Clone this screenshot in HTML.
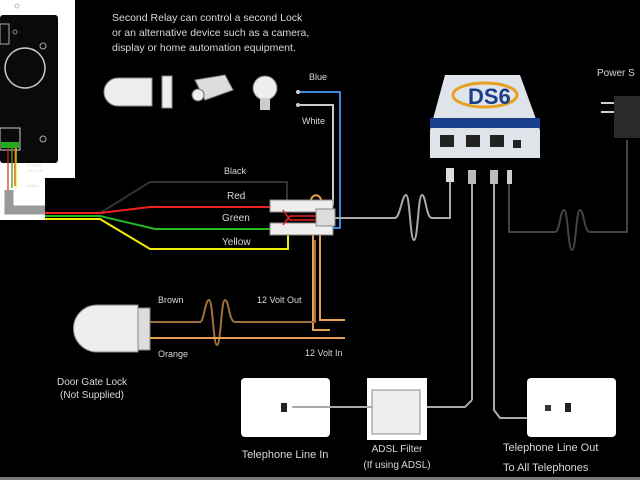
<!DOCTYPE html>
<html><head><meta charset="utf-8"><style>
html,body{margin:0;padding:0;background:#000;width:640px;height:480px;overflow:hidden}
svg{display:block}
text{font-family:"Liberation Sans",sans-serif;fill:#d8d8d8}
</style></head><body>
<svg width="640" height="480" viewBox="0 0 640 480" xmlns="http://www.w3.org/2000/svg">
<rect width="640" height="480" fill="#000"/>
<!-- intercom panel -->
<path d="M0 0H75V178H45V220H0Z" fill="#fff"/>
<rect x="0" y="15" width="58" height="148" rx="3" fill="#0a0a0a"/>
<circle cx="17" cy="6" r="2" fill="none" stroke="#bbb"/>
<circle cx="25" cy="68" r="20" fill="none" stroke="#ccc" stroke-width="1.5"/>
<rect x="0" y="24" width="9" height="20" fill="none" stroke="#aaa"/>
<circle cx="15" cy="32" r="2" fill="none" stroke="#888"/>
<circle cx="43" cy="46" r="3" fill="none" stroke="#aaa"/>
<circle cx="43" cy="139" r="3" fill="none" stroke="#aaa"/>
<rect x="0" y="128" width="20" height="22" fill="none" stroke="#ccc"/>
<rect x="1" y="142" width="18" height="6" fill="#2a2"/>
<path d="M8 148V190M12 148V188M15 148V186" stroke="#d22" stroke-width="1.2"/>
<path d="M12 148V188" stroke="#2b2" stroke-width="1.2"/>
<path d="M16 148V188" stroke="#ee0" stroke-width="1.2"/>
<text x="26" y="167" font-size="4" fill="#555">POWER</text>
<text x="26" y="172" font-size="4" fill="#555">YELLOW</text>
<text x="26" y="187" font-size="4" fill="#555">AUDIO</text>
<path d="M9 190V210H45" stroke="#999" stroke-width="9" fill="none"/>
<!-- wires -->
<path d="M45 213H100L150 182H287V205" stroke="#333" stroke-width="2" fill="none"/>
<path d="M45 213H100L150 207H270" stroke="#e22" stroke-width="2" fill="none"/>
<path d="M45 216H100L155 229H270" stroke="#2b2" stroke-width="2" fill="none"/>
<path d="M45 219H100L150 249H288V235" stroke="#ee0" stroke-width="2" fill="none"/>
<path d="M298 92H340V228H330" stroke="#3a8ae0" stroke-width="2" fill="none"/>
<path d="M298 105H333V205" stroke="#ccc" stroke-width="2" fill="none"/>
<circle cx="298" cy="92" r="2" fill="#ccc"/><circle cx="298" cy="105" r="2" fill="#ccc"/>
<path d="M310 205C310 192 322 192 322 205" stroke="#e8a050" stroke-width="2" fill="none"/>
<path d="M313 235V330H330M320 235V320H345" stroke="#e8a050" stroke-width="2" fill="none"/>
<!-- terminal blocks -->
<rect x="270" y="200" width="63" height="12" fill="#eee" stroke="#888"/>
<rect x="270" y="223" width="63" height="12" fill="#eee" stroke="#888"/>
<rect x="316" y="209" width="19" height="17" fill="#ddd" stroke="#888"/>
<path d="M283 210L290 220H316M283 225L290 216H316" stroke="#e22" stroke-width="1.5" fill="none"/>
<!-- grey wire to DS6 -->
<path d="M335 218H395C400 218 402 195 406 195C410 195 410 240 414 240C418 240 418 195 422 195C426 195 426 218 432 218H450V180" stroke="#aaa" stroke-width="2" fill="none"/>
<rect x="446" y="168" width="8" height="14" fill="#ddd"/>
<!-- DS6 box -->
<path d="M445 75H520L540 130V158H430V130Z" fill="#dfe3ea"/>
<rect x="430" y="118" width="110" height="10" fill="#1a3f8a"/>
<ellipse cx="485" cy="95" rx="32" ry="12" fill="none" stroke="#e8a020" stroke-width="3"/>
<text x="468" y="104" font-size="22" font-weight="bold" fill="#1a3f8a" style="fill:#1a3f8a">DS6</text>
<rect x="440" y="135" width="14" height="12" fill="#222"/><rect x="466" y="135" width="14" height="12" fill="#222"/><rect x="490" y="135" width="14" height="12" fill="#222"/><rect x="513" y="140" width="8" height="8" fill="#222"/>
<path d="M472 180V400M494 180V400" stroke="#aaa" stroke-width="2"/>
<rect x="468" y="170" width="8" height="14" fill="#bbb"/><rect x="490" y="170" width="8" height="14" fill="#bbb"/>
<rect x="507" y="170" width="5" height="14" fill="#ccc"/>
<path d="M509 184V232H555C560 232 560 210 564 210C568 210 568 250 572 250C576 250 576 210 580 210C584 210 584 232 590 232H627V140" stroke="#444" stroke-width="2" fill="none"/>
<!-- power supply -->
<text x="597" y="76" font-size="10">Power S</text>
<rect x="614" y="96" width="26" height="42" fill="#2a2a2a"/>
<path d="M601 103H614M601 112H614" stroke="#ccc" stroke-width="2"/>
<!-- top text and icons -->
<text x="112" y="21" font-size="10.5">Second Relay can control a second Lock</text>
<text x="112" y="36" font-size="10.5">or an alternative device such as a camera,</text>
<text x="112" y="51" font-size="10.5">display or home automation equipment.</text>
<path d="M118 78H152V106H118A14 14 0 0 1 118 78Z" fill="#eee" stroke="#888"/>
<rect x="162" y="76" width="10" height="32" fill="#eee" stroke="#888"/>
<path d="M195 80L225 75L233 90L205 100Z" fill="#ddd" stroke="#888"/>
<circle cx="198" cy="95" r="6" fill="#eee" stroke="#666"/>
<circle cx="265" cy="88" r="12" fill="#eee" stroke="#777"/>
<rect x="260" y="98" width="10" height="12" fill="#ccc"/>
<text x="309" y="80" font-size="9">Blue</text>
<text x="302" y="124" font-size="9">White</text>
<text x="224" y="174" font-size="9">Black</text>
<text x="227" y="199" font-size="10">Red</text>
<text x="222" y="221" font-size="10">Green</text>
<text x="222" y="245" font-size="10">Yellow</text>
<!-- door lock -->
<path d="M97 305H138V352H97A23 23 0 0 1 97 305Z" fill="#eee" stroke="#888"/>
<rect x="138" y="308" width="12" height="42" fill="#ddd" stroke="#888"/>
<path d="M150 322H200C204 322 205 300 209 300C213 300 213 345 217 345C221 345 221 300 225 300C229 300 229 322 235 322H315V240" stroke="#a0703a" stroke-width="2" fill="none"/>
<path d="M150 338H345" stroke="#e8a050" stroke-width="2"/>
<text x="158" y="303" font-size="9">Brown</text>
<text x="158" y="357" font-size="9">Orange</text>
<text x="257" y="303" font-size="9">12 Volt Out</text>
<text x="305" y="356" font-size="9">12 Volt In</text>
<text x="92" y="385" font-size="10" text-anchor="middle">Door Gate Lock</text>
<text x="92" y="398" font-size="10" text-anchor="middle">(Not Supplied)</text>
<!-- bottom boxes -->
<rect x="241" y="378" width="89" height="59" rx="4" fill="#fff"/>
<rect x="281" y="403" width="6" height="9" fill="#222"/>
<rect x="367" y="378" width="60" height="62" fill="#fff"/>
<rect x="372" y="390" width="48" height="44" fill="#eee" stroke="#888"/>
<path d="M292 407H372M427 407H465L472 400" stroke="#aaa" stroke-width="2" fill="none"/>
<path d="M494 400V410L500 418H540" stroke="#aaa" stroke-width="2" fill="none"/>
<rect x="527" y="378" width="89" height="59" rx="4" fill="#fff"/>
<rect x="565" y="403" width="6" height="9" fill="#222"/>
<rect x="545" y="405" width="6" height="6" fill="#333"/>
<text x="285" y="458" font-size="11" text-anchor="middle">Telephone Line In</text>
<text x="397" y="452" font-size="10" text-anchor="middle">ADSL Filter</text>
<text x="397" y="468" font-size="10" text-anchor="middle">(If using ADSL)</text>
<text x="503" y="451" font-size="11">Telephone Line Out</text>
<text x="503" y="471" font-size="11">To All Telephones</text>
<rect x="0" y="477" width="640" height="3" fill="#777"/>
</svg>
</body></html>
